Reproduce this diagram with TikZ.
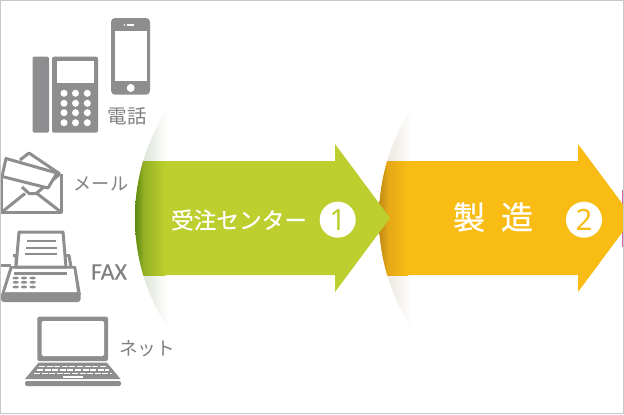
\documentclass[tikz,border=0pt]{standalone}
\usepackage{fontspec}
\newfontfamily\jp{Noto Sans CJK JP}
\newfontfamily\jpheavy[FakeBold=0.5]{Noto Sans CJK JP}
\newfontfamily\lat{Noto Sans}
\newfontfamily\faxfont[FakeBold=0.12]{Carlito}
\definecolor{icon}{HTML}{8E8E90}
\definecolor{labelgray}{HTML}{808080}
\definecolor{greenmain}{HTML}{BCCF2E}
\definecolor{greendark}{HTML}{5C8A12}
\definecolor{greenmid}{HTML}{94AF24}
\definecolor{greenhalo}{HTML}{DDE4D6}
\definecolor{orangemain}{HTML}{F9BC15}
\definecolor{orangedark}{HTML}{C08A14}
\definecolor{orangemid}{HTML}{E3A716}
\definecolor{orangehalo}{HTML}{EAE5DC}
\definecolor{framegray}{HTML}{C8C8C8}
\definecolor{tipmagenta}{HTML}{D860A8}
\tikzset{
  iconfill/.style={fill=icon,draw=none},
  iconline/.style={draw=icon,line width=2.25pt,line join=round,fill=none},
  holefill/.style={fill=white,draw=none},
  graylabel/.style={font=\jp,text=labelgray,inner sep=0pt},
  whitelabel/.style={font=\jp,text=white,inner sep=0pt},
  badge/.style={circle,fill=white,minimum size=27pt,inner sep=0pt,font=\lat\fontsize{22}{22}\selectfont}
}
\begin{document}
\begin{tikzpicture}[x=0.75pt,y=-0.75pt]
\useasboundingbox (0,0) rectangle (624,414);
\fill[white] (0,0) rectangle (624,414);
\begin{scope}
\clip (0,0) rectangle (624,414);

% magenta tip of a following arrow
\fill[tipmagenta] (621.5,190) rectangle (624,247);

% orange arrow
\begin{scope}
  \clip (579,218) circle (200);
  \shade[left color=orangehalo,right color=white] (384,90) rectangle (412,350);
\end{scope}
\begin{scope}
  \clip (579,218) circle (200);
  \fill[orangemain] (379,161) -- (578,161) -- (578,144) -- (633,218) -- (578,292) -- (578,275) -- (379,275) -- cycle;
  \clip (379,161) rectangle (420,275);
  \shade[left color=orangedark,right color=orangemid] (379,161) rectangle (388,275);
  \shade[left color=orangemid,right color=orangemain] (387.5,161) rectangle (408,275);
\end{scope}

% green arrow
\begin{scope}
  \clip (335,218) circle (200);
  \shade[left color=greenhalo,right color=white] (142,90) rectangle (168,350);
\end{scope}
\begin{scope}
  \clip (335,218) circle (200);
  \fill[greenmain] (135,161) -- (335,161) -- (335,144) -- (390,218) -- (335,292) -- (335,275) -- (135,275) -- cycle;
  \clip (135,161) rectangle (175,275);
  \shade[left color=greendark,right color=greenmid] (135,161) rectangle (144,275);
  \shade[left color=greenmid,right color=greenmain] (143.5,161) rectangle (165,275);
\end{scope}

% arrow labels
\node[whitelabel,font=\jpheavy\fontsize{17}{17}\selectfont] (order) at (239,220) {受注センター};
\node[badge,text=greenmain] (one) at (337.7,219.7) {1};
\node[whitelabel,font=\jpheavy\fontsize{24}{24}\selectfont] (make) at (493,217) {製\hspace{12pt}造};
\node[badge,text=orangemain] (two) at (584,219.7) {2};

% mobile phone
\fill[iconfill,rounded corners=3pt] (111,18) rectangle (150,94.7);
\fill[holefill] (114.5,31) rectangle (147,81);
\fill[holefill] (130.7,88) circle (4);
\fill[holefill] (127,24.3) rectangle (134,25.6);
\fill[holefill] (124.5,25) circle (0.9);

% desk phone
\fill[iconfill,rounded corners=1.5pt] (32.5,56.7) rectangle (49,132.7);
\fill[iconfill,rounded corners=1.5pt] (52,56.7) rectangle (98,132.7);
\fill[holefill] (56.7,61) rectangle (94,83);
\foreach \cx in {64,75.5,87.3}
  \foreach \cy in {93.3,103.3,112.7,122.7}
    \fill[holefill] (\cx,\cy) circle (3.5);

% envelope
\draw[iconline] (1.5,174) -- (1.5,212) -- (61,212) -- (61,174);
\draw[iconline] (2,212) -- (25,193.5) (61,212) -- (37,193.5);
\draw[iconline] (22,187) -- (29,193.5) -- (36,193.5) -- (60,174);
\draw[iconline] (20,160) -- (29,153) -- (60,174);
\fill[white] (7,160) -- (55,174) -- (47,187) -- (4,176) -- cycle;
\draw[iconline] (6,158.5) -- (57,173) -- (48,188) -- (2,176.5) -- cycle;

% label mail and phone
\node[graylabel,font=\jp\fontsize{14.6}{15}\selectfont] (tel) at (127,116.5) {電話};
\node[graylabel,font=\jp\fontsize{13.6}{14}\selectfont] (mail) at (101,184) {メール};

% fax
\draw[iconline] (1,265) -- (11,265);
\draw[iconline] (13,255.5) -- (16,255.5) -- (16,267) (66,255.5) -- (69,255.5) -- (71,267);
\fill[iconfill] (10,266) -- (76,266) -- (81,295) -- (1,295) -- cycle;
\fill[white] (12.5,268.5) -- (73.5,268.5) -- (77,292) -- (5,292) -- cycle;
\fill[iconfill,rounded corners=2pt] (1,293) rectangle (80.5,302);
\fill[white] (19,232) -- (63,232) -- (66,267) -- (16,267) -- cycle;
\draw[iconline] (19,232) -- (63,232) -- (66,267) -- (16,267) -- cycle;
\draw[draw=icon,line width=0.9pt] (27,241) -- (56,241) (26,248) -- (57,248) (25,254) -- (57,254);
\fill[iconfill] (14,272) rectangle (67,274.8);
\foreach \cx in {15.7,24,32.7}
  \foreach \cy in {278,282.3,287}
    \fill[iconfill] (\cx,\cy) ellipse (3.2 and 1.4);
\node[graylabel,font=\faxfont\fontsize{18}{18}\selectfont] (fax) at (109,272) {FAX};

% laptop
\fill[iconfill,rounded corners=1.5pt] (37.3,316.7) rectangle (108,361);
\fill[holefill,rounded corners=1pt] (41.7,321) rectangle (104,356);
\fill[iconfill] (38.5,362.7) -- (107,362.7) -- (120.5,379) -- (25,379) -- cycle;
\fill[iconfill,rounded corners=1.5pt] (25,381) rectangle (121,386);
\draw[white,line width=1pt,dash pattern=on 4.5pt off 1.2pt] (39,366.7) -- (106,366.7);
\draw[white,line width=1pt,dash pattern=on 4.5pt off 1.2pt] (37,370) -- (109,370);
\draw[white,line width=1pt,dash pattern=on 4.5pt off 1.2pt] (34,373.5) -- (112,373.5);
\fill[holefill] (63.3,375.8) rectangle (83.3,378);
\node[graylabel,font=\jp\fontsize{14}{14}\selectfont] (net) at (147,349) {ネット};

\end{scope}
% frame
\draw[framegray,line width=0.75pt] (0.5,0.5) rectangle (623.5,413.5);
\end{tikzpicture}
\end{document}
